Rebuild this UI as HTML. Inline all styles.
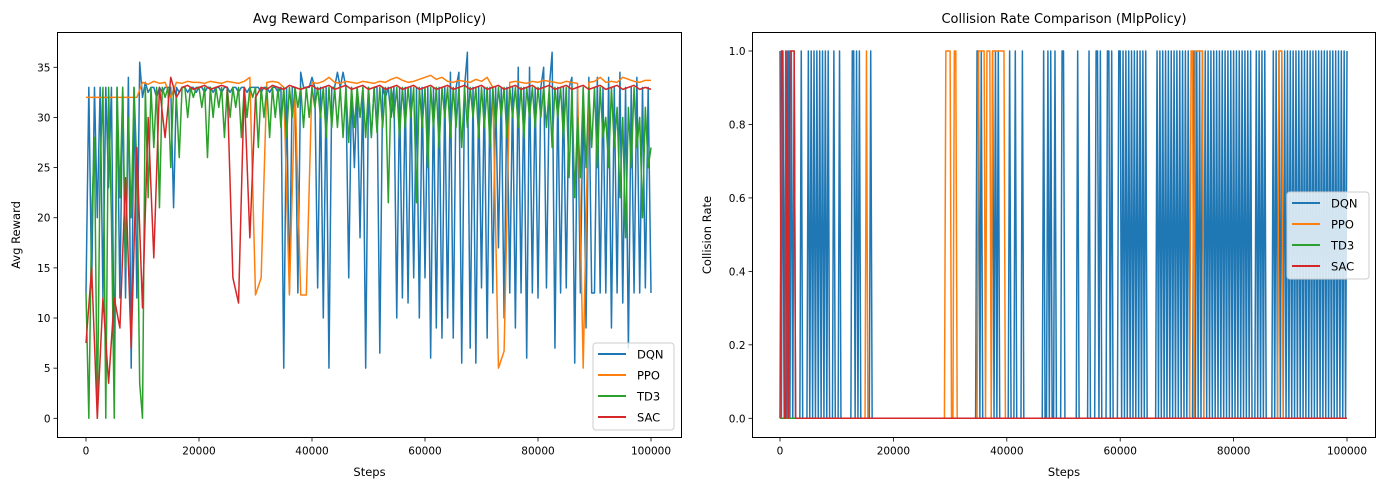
<!DOCTYPE html>
<html><head><meta charset="utf-8"><style>
html,body{margin:0;padding:0;background:#fff;}
svg{display:block;font-family:"DejaVu Sans","Liberation Sans",sans-serif;}
</style></head><body>
<svg id="chart" width="1386" height="490" viewBox="0 0 1386 490" xmlns="http://www.w3.org/2000/svg"></svg>
<script>
const stepsFine = [];
for (let i = 0; i <= 200; i++) stepsFine.push(i * 500);
const stepsCoarse = [];
for (let i = 0; i <= 100; i++) stepsCoarse.push(i * 1000);
const dqnReward = [12.5,33,13,33,20,33,12,33,23,33, 5,33,12,33,12,34,5,33,12,35.5, 32,33.5,32.5,33,33,32,33,32.5,33,33, 33,21,33,32.5,33,33,32.5,33,33,32.5, 33,33,32.5,33,33,32.5,33,33,32.5,33, 33,32.5,33,33,32.5,33,33,32.5,33,33, 33,33,32.5,33,33,32.5,33,33,32.5,33, 5,33,12.5,33,33,12.5,34.5,33,33,33, 34,33,13,33,10,33,5,33,33,34.5, 33,34.5,33,14,33,25,33,18,33,5, 33,28,33,33,6.5,33,32,33,30,33, 10,33,12,33,11.5,33,14,33,10,33, 14,33,6,33,9,33,8,33,10,34.5, 8,33,34.5,5.5,33,36.5,7,33,5.5,33, 13,33,8,33,12.5,33,17,33,10,33, 12.5,33,9,35,12.5,33,6,35,12.5,33, 12,33,35,13,33,36.5,7,33,12.5,33, 13,33,34,5.5,33,12.5,33,9,34,12.5, 12.5,34,12.5,33,12.5,34,9,33,12.5,34.5, 11.5,33,7,33,12.5,34,12.5,33,13,33, 12.5];
const ppoReward = [32,32,32,32,32,32,32,32,32,32, 33.5,33.3,33.6,33.4,33.5,32,33.5,33.4,33.6,33.5, 33.5,33.4,33.6,33.5,33.4,33.6,33.5,33.4,33.6,34, 12.3,14,33.5,33.6,33.5,33,12.3,33,12.3,12.3, 33.5,33.4,33.6,34,33.5,33.4,33.6,33.5,33.4,33.6, 33.5,33.4,33.6,33.5,33.8,34,33.7,33.5,33.6,33.8, 34,34.2,33.8,34,33.6,33.5,33.7,33.6,33.5,33.8, 33.6,34,33,5,6.7,33.5,33.6,33.5,33.4,33.6, 33.5,33.7,33.6,33.5,33.4,33.6,33.5,33.4,5,33.5, 33.6,34,33.5,33.6,33.5,34,33.8,33.6,33.5,33.7, 33.7];
const td3Reward = [12.5,0,20,28,0,25,33,0,33,20, 0,33,22,33,15,30,20,33,25,3.5, 0,33,22,33,27,33,21,33,32,33, 25,33,32,26,33,33,30,33,32,33, 33,31,33,26,33,30,33,31,33,28, 33,30,33,31,33,28,33,30,33,32, 33,27,33,30,33,28,33,30,33,29, 33,28,33,30,33,31,33,29,33,30, 33,31,33,30,33,28,33,29,33,29, 33,28,33,27.5,33,29,33,30,33,28, 33,28,33,28.5,33,29,33,21.5,33,30, 33,28,33,29,33,30,33,21.5,33,29, 33,25,33,29,33,27,33,30,33,28, 33,29,33,27,33,29,33,30,33,28, 33,29,33,27,33,29,33,30,33,28, 33,30,33,29,33,28,33,30,33,29, 33,30,33,29,33,27,33,30,33,28, 33,24,33,22,30,24,33,25,33,27, 33,25,33,28,30,25,33,27,31,22, 30,18,31,25,33,27,30,20,31,25, 27];
const sacReward = [7.5,15,0,12,3.5,12,9,24,7,27, 11,30,16,33,28,34,32,33,33.2,32.8, 33,33.2,32.8,33,33.2,33,14,11.5,33,18, 32,33,32.8,33.2,33,32.8,33.2,33,32.8,33, 33.2,32.8,33,33.2,32.8,33,33.2,32.8,33,33.2, 32.8,33,33.2,32.8,33,33.2,32.8,33,33.2,32.8, 33,33.2,32.8,33,33.2,32.8,33,33.2,32.8,33, 33.2,32.8,33,33.2,32.8,33,33.2,32.8,33,33.2, 32.8,33,33.2,32.8,33,33.2,32.8,33,33.2,32.8, 33,33.2,32.8,33,33.2,32.8,33,33.2,32.8,33, 32.8];
// collision rate: one 4-char group per 1000 steps (each char = 250 steps), '1' = collision; final value at 100000
const dqnCollision = [
 "1010","1010","1010","0001","0000","1010","1010","1010","1010","0010",
 "0010","0000","0001","1010","1000","0000","1000","0000","0000","0000",
 "0000","0000","0000","0000","0000","0000","0000","0000","0000","0000",
 "0000","0000","0000","0000","0001","1010","0000","0010","1010","0000",
 "0010","0010","0001","0000","0000","0000","0010","0101","0010","0001",
 "1000","0000","0010","0000","0010","0001","1010","0001","1010","0001",
 "1010","1010","1010","1010","1010","0000","0010","1010","1010","1010",
 "1010","1010","1000","1010","1010","1010","1010","1010","1010","1010",
 "1010","1010","1010","1000","1010","1010","0000","1010","1010","1010",
 "1010","1010","1010","1010","1010","1010","1010","1010","1010","1010","1"];
const ppoCollision = [
 "0000","0000","0000","0000","0000","0000","0000","0000","0000","0000",
 "0000","0000","0000","0000","0000","0100","0000","0000","0000","0000",
 "0000","0000","0000","0000","0000","0000","0000","0000","0000","0111",
 "1001","1000","0000","0000","0000","1111","1011","1011","1111","1110",
 "0000","0000","0000","0000","0000","0000","0000","0000","0000","0000",
 "0000","0000","0000","0000","0000","0000","0000","0000","0000","0000",
 "0000","0000","0000","0000","0000","0000","0000","0000","0000","0000",
 "0000","0000","0011","0111","1110","0000","0000","0000","0000","0000",
 "0000","0000","0000","0000","0000","0000","0000","0000","1110","0000",
 "0000","0000","0000","0000","0000","0000","0000","0000","0000","0000","0"];
const td3Collision = ["0000","0"];
const sacCollision = ["0110","0101","1110","0"];
const seriesNames = ["DQN","PPO","TD3","SAC"];
const seriesColors = ["#1f77b4","#ff7f0e","#2ca02c","#d62728"];
const rewardTicks = [0,5,10,15,20,25,30,35];
const rateTicks = [0,0.2,0.4,0.6,0.8,1.0];
const stepTicks = [0,20000,40000,60000,80000,100000];

const NS = "http://www.w3.org/2000/svg";
const svg = document.getElementById("chart");
function mk(tag, attrs, parent) {
  const e = document.createElementNS(NS, tag);
  for (const k in attrs) e.setAttribute(k, attrs[k]);
  (parent || svg).appendChild(e);
  return e;
}
function txt(s, attrs, parent) { const t = mk("text", attrs, parent); t.textContent = s; return t; }

function collisionSeries(groups) {
  const str = groups.join("");
  const xs = [], ys = [];
  for (let i = 0; i <= 400; i++) { xs.push(i * 250); ys.push(str.charAt(i) === "1" ? 1 : 0); }
  return [xs, ys];
}

function drawPanel(cfg) {
  const g = mk("g", {});
  
  
  const xS = v => cfg.x0 + v / 100000 * (cfg.x1 - cfg.x0);
  const yS = v => cfg.yZero + v / cfg.yRef * (cfg.yRefPx - cfg.yZero);
  const t = txt(cfg.title, {x:(cfg.fl+cfg.fr)/2, y:23, "text-anchor":"middle", "font-size":"13", fill:"#000"}, g);
  
  
  const sg = mk("g", {}, g);
  
  
  cfg.series.forEach((s, i) => {
    const pts = s[0].map((x, j) => xS(x).toFixed(2) + "," + yS(s[1][j]).toFixed(2)).join(" ");
    const pl = mk("polyline", {points: pts, fill:"none", stroke: seriesColors[i], "stroke-width":"1.5", "stroke-linejoin":"round"}, sg);
    
    
  });
  const fr = mk("rect", {x:cfg.fl, y:cfg.ft, width:cfg.fr-cfg.fl, height:cfg.fb-cfg.ft, fill:"none", stroke:"#000", "stroke-width":"1"}, g);
  
  
  stepTicks.forEach(v => {
    const x = xS(v);
    mk("line", {x1:x, y1:cfg.fb, x2:x, y2:cfg.fb+4, stroke:"#000", "stroke-width":"0.8"}, g);
    const l = txt(String(v), {x:x, y:cfg.fb+17, "text-anchor":"middle", "font-size":"10.5", fill:"#000"}, g);
    
    
  });
  cfg.yTicks.forEach(v => {
    const y = yS(v);
    mk("line", {x1:cfg.fl-4, y1:y, x2:cfg.fl, y2:y, stroke:"#000", "stroke-width":"0.8"}, g);
    const l = txt(cfg.fmt(v), {x:cfg.fl-7, y:y+4, "text-anchor":"end", "font-size":"10.5", fill:"#000"}, g);
    
    
  });
  const xl = txt("Steps", {x:(cfg.fl+cfg.fr)/2, y:476, "text-anchor":"middle", "font-size":"11.5", fill:"#000"}, g);
  
  
  const yl = txt(cfg.yTitle, {x:0, y:0, "text-anchor":"middle", "font-size":"11.5", fill:"#000", transform:"translate("+cfg.yTitleX+","+((cfg.ft+cfg.fb)/2)+") rotate(-90)"}, g);
  
  
  const L = cfg.legend;
  const lg = mk("g", {}, g);
  
  
  mk("rect", {x:L.x, y:L.y, width:L.w, height:L.h, rx:3, fill:"rgba(255,255,255,0.8)", stroke:"#ccc", "stroke-width":"1"}, lg);
  seriesNames.forEach((n, i) => {
    const y = L.y + 11 + i * 21;
    const e = mk("g", {}, lg);
    
    
    mk("line", {x1:L.x+5, y1:y, x2:L.x+33, y2:y, stroke:seriesColors[i], "stroke-width":"2"}, e);
    txt(n, {x:L.x+44, y:y+4.5, "font-size":"11.5", fill:"#000"}, e);
  });
}

drawPanel({
  name:"avg-reward-panel", title:"Avg Reward Comparison (MlpPolicy)",
  fl:57.5, fr:681.5, ft:32.5, fb:437.5, x0:86, x1:651,
  yZero:418.3, yRef:35, yRefPx:67.3,
  yTicks:rewardTicks, fmt:v=>String(v), yTitle:"Avg Reward", yTitleX:20,
  series:[[stepsFine,dqnReward],[stepsCoarse,ppoReward],[stepsFine,td3Reward],[stepsCoarse,sacReward]],
  legend:{x:593, y:343, w:81, h:87}
});
drawPanel({
  name:"collision-rate-panel", title:"Collision Rate Comparison (MlpPolicy)",
  fl:752.5, fr:1375.5, ft:32.5, fb:437.5, x0:780, x1:1347,
  yZero:418.3, yRef:1, yRefPx:51,
  yTicks:rateTicks, fmt:v=>v.toFixed(1), yTitle:"Collision Rate", yTitleX:711,
  series:[collisionSeries(dqnCollision),collisionSeries(ppoCollision),collisionSeries(td3Collision),collisionSeries(sacCollision)],
  legend:{x:1287, y:192, w:82, h:87}
});
</script>
</body></html>
